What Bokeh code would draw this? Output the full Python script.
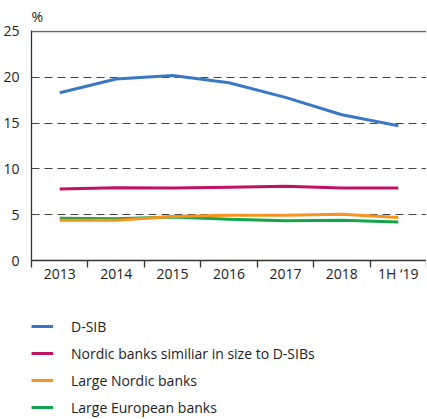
import numpy as np
from bokeh.plotting import figure
from bokeh.layouts import column
from bokeh.models import (Range1d, FixedTicker, LinearAxis, Legend, LegendItem, Grid)
from bokeh.embed import file_html
from bokeh.resources import INLINE

categories = ["2013", "2014", "2015", "2016", "2017", "2018", "1H \u201819"]
dsib = [18.3, 19.8, 20.2, 19.4, 17.8, 15.9, 14.7]
nordic_similar = [7.8, 7.95, 7.9, 8.0, 8.1, 7.9, 7.9]
large_nordic = [4.4, 4.4, 4.8, 4.95, 4.95, 5.05, 4.7]
large_european = [4.6, 4.55, 4.75, 4.5, 4.35, 4.4, 4.2]
y_ticks = [0, 5, 10, 15, 20, 25]
grid_ticks = [5, 10, 15, 20]
top_tick = [25]

FONT = "Open Sans"
TXT = "#222222"

x = np.arange(len(categories)) + 0.5

p = figure(output_backend="svg", toolbar_location=None,
           frame_width=395, frame_height=230,
           x_range=Range1d(0, len(categories)), y_range=Range1d(0, 25.1),
           min_border_left=24, min_border_top=30, min_border_right=0,
           min_border_bottom=30, x_axis_type=None, y_axis_type=None,
           title="%")
p.outline_line_color = None
p.background_fill_color = "white"
p.border_fill_color = "white"
p.title.text_font = FONT
p.title.text_font_size = "14px"
p.title.text_font_style = "normal"
p.title.text_color = TXT
p.title.align = "left"
p.title.offset = 0
p.title.standoff = 9

# y axis
yax = LinearAxis(ticker=FixedTicker(ticks=y_ticks))
yax.major_tick_line_color = None
yax.minor_tick_line_color = None
yax.axis_line_color = "#333333"
yax.axis_line_width = 1.3
yax.major_label_text_font = FONT
yax.major_label_text_font_size = "14px"
yax.major_label_text_color = TXT
yax.major_label_standoff = 6
p.add_layout(yax, "left")

# x axis: labels at centres, ticks between categories
xax = LinearAxis(ticker=FixedTicker(ticks=list(x), minor_ticks=list(range(len(categories) + 1))))
xax.major_label_overrides = {float(v): c for v, c in zip(x, categories)}
xax.major_tick_line_color = None
xax.minor_tick_out = 7
xax.minor_tick_in = 0
xax.minor_tick_line_color = "#333333"
xax.minor_tick_line_width = 1.3
xax.axis_line_color = "#333333"
xax.axis_line_width = 1.3
xax.major_label_text_font = FONT
xax.major_label_text_font_size = "14px"
xax.major_label_text_color = TXT
xax.major_label_standoff = -4
p.add_layout(xax, "below")

g = Grid(dimension=1, ticker=FixedTicker(ticks=grid_ticks))
g.grid_line_color = "#444444"
g.grid_line_dash = "8 5"
g.grid_line_width = 1.2
p.add_layout(g)
gt = Grid(dimension=1, ticker=FixedTicker(ticks=top_tick))
gt.grid_line_color = "#666666"
gt.grid_line_width = 1.5
p.add_layout(gt)

series = [
    ("Large European banks", large_european, "#13a54b"),
    ("Large Nordic banks", large_nordic, "#f7941e"),
    ("Nordic banks similiar in size to D-SIBs", nordic_similar, "#c01162"),
    ("D-SIB", dsib, "#3b78c4"),
]
for name, vals, col in series:
    p.line(x, vals, line_color=col, line_width=3, line_join="round")

# legend in its own figure below the chart (series drawn outside its visible range)
lf = figure(output_backend="svg", toolbar_location=None, width=419, height=129,
            min_border=0, x_axis_type=None, y_axis_type=None,
            x_range=Range1d(0, 1), y_range=Range1d(-10, -9))
lf.outline_line_color = None
items = {}
for name, vals, col in series:
    r = lf.line(x, vals, line_color=col, line_width=3)
    items[name] = LegendItem(label=name, renderers=[r])
order = ["D-SIB", "Nordic banks similiar in size to D-SIBs", "Large Nordic banks", "Large European banks"]
legend = Legend(items=[items[n] for n in order])
legend.location = (0, 2)
legend.orientation = "vertical"
legend.border_line_color = None
legend.background_fill_alpha = 0
legend.padding = 0
legend.margin = 0
legend.glyph_width = 22
legend.glyph_height = 20
legend.spacing = 7
legend.label_standoff = 18
legend.label_text_font = FONT
legend.label_text_font_size = "14px"
legend.label_text_color = TXT
lf.add_layout(legend)

layout = column(p, lf, spacing=0)
open("out.html", "w").write(file_html(layout, INLINE))
